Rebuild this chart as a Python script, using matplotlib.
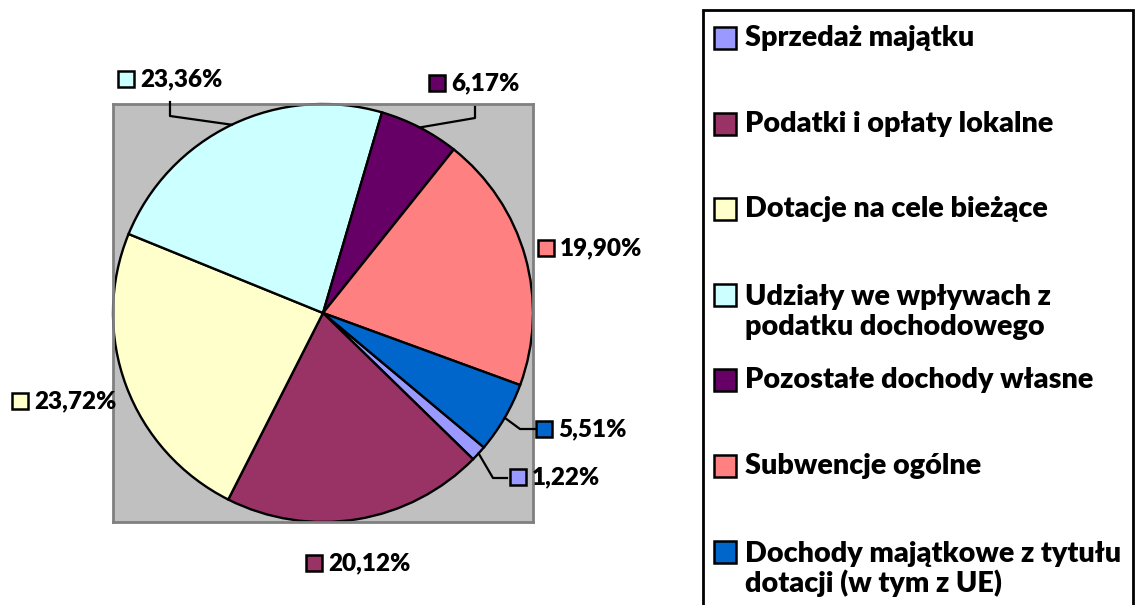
import numpy as np
import matplotlib
matplotlib.use("Agg")
import matplotlib.pyplot as plt
from matplotlib.patches import Rectangle

categories = ["Sprzedaż majątku", "Podatki i opłaty lokalne", "Dotacje na cele bieżące",
              "Udziały we wpływach z\npodatku dochodowego", "Pozostałe dochody własne",
              "Subwencje ogólne", "Dochody majątkowe z tytułu\ndotacji (w tym z UE)"]
values = [1.22, 20.12, 23.72, 23.36, 6.17, 19.90, 5.51]
labels = ["1,22%", "20,12%", "23,72%", "23,36%", "6,17%", "19,90%", "5,51%"]
colors = ["#9999FF", "#993366", "#FFFFCC", "#CCFFFF", "#660066", "#FF8080", "#0066CC"]

W, H = 1137, 605
fig = plt.figure(figsize=(W / 100, H / 100), dpi=100)
FONT = "Lato"
WEIGHT = "heavy"

# pie area (image pixel coords)
bx0, by0, bx1, by1 = 113, 104, 533, 522
ax = fig.add_axes([bx0 / W, 1 - by1 / H, (bx1 - bx0) / W, (by1 - by0) / H])
START = -40
wedges, _ = ax.pie(values, colors=colors, startangle=START, counterclock=False,
                   radius=1.0, frame=True,
                   wedgeprops=dict(edgecolor="black", linewidth=1.7))
ax.set_facecolor("#C0C0C0")
ax.patch.set_visible(True)
ax.set_xlim(-1, 1)
ax.set_ylim(-1, 1)
ax.set_aspect("auto")
ax.set_xticks([]); ax.set_yticks([])
for s in ax.spines.values():
    s.set_visible(True)
    s.set_color("#808080"); s.set_linewidth(2)

# overlay in image pixel coords
ov = fig.add_axes([0, 0, 1, 1], zorder=5)
ov.set_xlim(0, W); ov.set_ylim(H, 0); ov.axis("off")
ov.patch.set_alpha(0)

cx, cy = (bx0 + bx1) / 2, (by0 + by1) / 2
rx, ry = (bx1 - bx0) / 2, (by1 - by0) / 2

# label positions: (square left x, center y)
label_pos = [(510, 477), (306, 563), (12, 401), (118, 79), (429, 83), (538, 248), (536, 429)]
# leader line knee points (None = no leader)
leaders = [[(507, 478), (493, 478)], None, None, [(170, 102), (170, 116)],
           [(475, 107), (475, 118)], None, [(536, 429), (520, 429)]]

cum = np.cumsum([0] + values[:-1])
for i, (v, c0) in enumerate(zip(values, cum)):
    mid = np.deg2rad(START - (c0 + v / 2) / 100 * 360)
    ex, ey = cx + rx * np.cos(mid), cy - ry * np.sin(mid)
    sx, sy = label_pos[i]
    ov.add_patch(Rectangle((sx, sy - 8), 16, 16, facecolor=colors[i], edgecolor="black", lw=1.8))
    ov.text(sx + 22, sy, labels[i], fontsize=17.5, fontweight=WEIGHT, family=FONT,
            va="center", ha="left")
    if leaders[i] is not None:
        pts = leaders[i] + [(ex, ey)]
        ov.plot([p[0] for p in pts], [p[1] for p in pts], color="black", lw=1.6)

# legend
ov.add_patch(Rectangle((703, 10), 430, 620, facecolor="white", edgecolor="black", lw=2, zorder=1))
legend_y = [38, 124, 209, 312, 380, 466, 569]
for i, cat in enumerate(categories):
    y = legend_y[i]
    nlines = cat.count("\n") + 1
    first_y = y - (nlines - 1) * 35 / 2
    ov.add_patch(Rectangle((714, first_y - 11), 22, 22, facecolor=colors[i], edgecolor="black", lw=1.8, zorder=2))
    ov.text(745, y, cat, fontsize=20.7, fontweight=WEIGHT, family=FONT, va="center", ha="left",
            linespacing=1.15, zorder=3)

fig.savefig("out.png", dpi=100)
